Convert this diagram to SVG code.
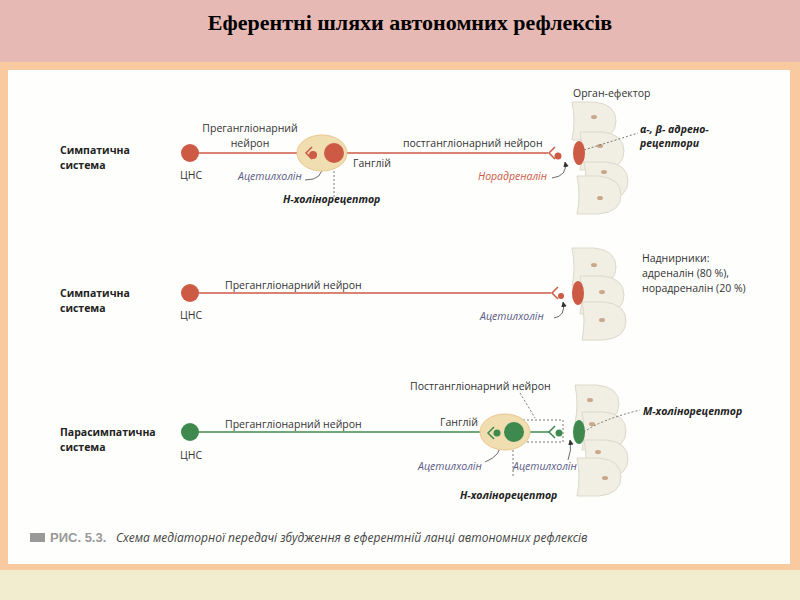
<svg xmlns="http://www.w3.org/2000/svg" width="800" height="600" viewBox="0 0 800 600">
<defs>
<style>
.t{font-family:"Open Sans","Liberation Sans",sans-serif;font-size:10.5px;fill:#333}
.b{font-weight:bold;fill:#222}
.i{font-style:italic}
.red{fill:#CC5A45}.grn{fill:#3E8A4E}
.lr{stroke:#CC5A45;stroke-width:1.5;fill:none}
.lg{stroke:#3E8A4E;stroke-width:1.5;fill:none}
.gang{fill:#F0DDB0;stroke:#E8C890}
.cell{fill:#F1EEE4;stroke:#DCD8CA}
.dot{stroke:#555;stroke-width:0.8;stroke-dasharray:2 2;fill:none}
.ar{stroke:#444;stroke-width:0.8;fill:none;marker-end:url(#ah)}
</style>
<marker id="ah" viewBox="0 0 10 10" refX="9" refY="5" markerWidth="7" markerHeight="7" orient="auto"><path d="M0,0 L10,5 L0,10 z" fill="#333"/></marker>
<path id="cell" class="cell" d="M0,0 H22 Q44,2 44,19 Q44,36 22,38 H0 Q4,19 0,0 Z"/>
</defs>
<rect width="800" height="600" fill="#F3EDCF"/>
<rect width="800" height="62" fill="#E6B9B4"/>
<text x="410" y="30" text-anchor="middle" font-family="Liberation Serif,serif" font-size="22" font-weight="bold">Еферентні шляхи автономних рефлексів</text>
<rect x="0" y="62" width="800" height="508" fill="#F9C9A0"/>
<rect x="8" y="70" width="782" height="494" fill="#FEFEFC"/>

<g id="organ1"><use href="#cell" x="572" y="102"/><use href="#cell" x="580" y="132"/><use href="#cell" x="584" y="162"/><use href="#cell" x="577" y="176"/>
<ellipse cx="594" cy="117" rx="3" ry="2" fill="#C9A88A"/><ellipse cx="600" cy="146" rx="3" ry="2" fill="#C9A88A"/><ellipse cx="604" cy="172" rx="3" ry="2" fill="#C9A88A"/><ellipse cx="600" cy="198" rx="3" ry="2" fill="#C9A88A"/></g>
<g id="organ2"><use href="#cell" x="572" y="248"/><use href="#cell" x="580" y="276"/><use href="#cell" x="582" y="302"/>
<ellipse cx="594" cy="265" rx="3" ry="2" fill="#C9A88A"/><ellipse cx="602" cy="292" rx="3" ry="2" fill="#C9A88A"/><ellipse cx="602" cy="320" rx="3" ry="2" fill="#C9A88A"/></g>
<g id="organ3"><use href="#cell" x="575" y="385"/><use href="#cell" x="582" y="412"/><use href="#cell" x="584" y="440"/><use href="#cell" x="577" y="458"/>
<ellipse cx="590" cy="400" rx="3" ry="2" fill="#C9A88A"/><ellipse cx="592" cy="424" rx="3" ry="2" fill="#C9A88A"/><ellipse cx="598" cy="452" rx="3" ry="2" fill="#C9A88A"/><ellipse cx="605" cy="478" rx="3" ry="2" fill="#C9A88A"/></g>

<g id="connectors">
<line class="lr" x1="190" y1="153" x2="306" y2="153"/>
<line class="lr" x1="334" y1="153" x2="548" y2="153"/>
<line class="lr" x1="190" y1="293" x2="551" y2="293"/>
<line class="lg" x1="190" y1="432" x2="488" y2="432"/>
<line class="lg" x1="514" y1="432" x2="549" y2="432"/>
<path class="dot" d="M334,163 V197"/>
<path class="dot" d="M584,150 L638,133"/>
<path class="dot" d="M584,432 Q600,420 640,410"/>
<rect class="dot" x="523" y="420" width="40" height="22"/>
<path class="dot" d="M520,393 L535,418"/>
<path class="dot" d="M513,442 V478"/>
<path class="ar" d="M305,180 Q324,180 322,164"/>
<path class="ar" d="M552,178 Q568,176 565,162"/>
<path class="ar" d="M554,318 Q566,316 563,302"/>
<path class="ar" d="M485,462 Q502,455 500,443"/>
<path class="ar" d="M568,460 Q572,450 570,440"/>
</g>

<g id="row1">
<text class="t b" x="60" y="154">Симпатична</text><text class="t b" x="60" y="169">система</text>
<circle class="red" cx="190" cy="153" r="9"/><text class="t" x="180" y="179">ЦНС</text>
<text class="t" x="250" y="132" text-anchor="middle">Прегангліонарний</text><text class="t" x="250" y="147" text-anchor="middle">нейрон</text>
<ellipse class="gang" cx="322" cy="153" rx="25" ry="18"/>
<path class="lr" d="M312,147 L306,153 L312,159"/><circle class="red" cx="313" cy="155" r="4"/>
<circle class="red" cx="334" cy="153" r="10"/>
<text class="t" x="353" y="167">Ганглій</text>
<text class="t i" x="238" y="180" style="fill:#5A5A85">Ацетилхолін</text>
<text class="t b i" x="283" y="203">Н-холінорецептор</text>
<text class="t" x="403" y="147">постгангліонарний нейрон</text>
<path class="lr" d="M555,147 L549,153 L555,159"/><circle class="red" cx="558" cy="156" r="3.5"/>
<ellipse class="red" cx="579" cy="153" rx="6" ry="12"/>
<text class="t i" x="478" y="180" style="fill:#CC5A45">Норадреналін</text>
<text class="t" x="573" y="97">Орган-ефектор</text>
<text class="t b i" x="640" y="133">α-, β- адрено-</text><text class="t b i" x="640" y="147">рецептори</text>
</g>

<g id="row2">
<text class="t b" x="60" y="297">Симпатична</text><text class="t b" x="60" y="312">система</text>
<circle class="red" cx="190" cy="293" r="9"/><text class="t" x="180" y="319">ЦНС</text>
<text class="t" x="225" y="289">Прегангліонарний нейрон</text>
<path class="lr" d="M558,287 L552,293 L558,299"/><circle class="red" cx="561" cy="296" r="3"/>
<ellipse class="red" cx="578" cy="293" rx="6" ry="12"/>
<text class="t i" x="480" y="320" style="fill:#5A5A85">Ацетилхолін</text>
<text class="t" x="642" y="262">Наднирники:</text>
<text class="t" x="642" y="277">адреналін (80 %),</text>
<text class="t" x="642" y="292">норадреналін (20 %)</text>
</g>

<g id="row3">
<text class="t b" x="60" y="436">Парасимпатична</text><text class="t b" x="60" y="451">система</text>
<circle class="grn" cx="190" cy="432" r="9"/><text class="t" x="180" y="459">ЦНС</text>
<text class="t" x="225" y="428">Прегангліонарний нейрон</text>
<text class="t" x="410" y="390">Постгангліонарний нейрон</text>
<text class="t" x="440" y="426">Ганглій</text>
<ellipse class="gang" cx="505" cy="432" rx="25" ry="18"/>
<path class="lg" d="M494,427 L488,433 L494,439"/><circle class="grn" cx="497" cy="433" r="3.5"/>
<circle class="grn" cx="514" cy="432" r="10"/>
<path class="lg" d="M555,426 L549,432 L555,438"/><circle class="grn" cx="559" cy="433" r="3.5"/>
<ellipse class="grn" cx="579" cy="432" rx="6" ry="12"/>
<text class="t i" x="418" y="470" style="fill:#5A5A85">Ацетилхолін</text>
<text class="t i" x="513" y="470" style="fill:#5A5A85">Ацетилхолін</text>
<text class="t b i" x="460" y="499">Н-холінорецептор</text>
<text class="t b i" x="643" y="415">М-холінорецептор</text>
</g>

<g id="caption">
<rect x="30" y="533" width="15" height="9" fill="#999"/>
<text x="50" y="542" font-family="Liberation Sans,sans-serif" font-size="13" font-weight="bold" fill="#999">РИС. 5.3.</text>
<text x="116" y="542" font-family="Open Sans,Liberation Sans,sans-serif" font-size="12" font-style="italic" fill="#444">Схема медіаторної передачі збудження в еферентній ланці автономних рефлексів</text>
</g>
</svg>
